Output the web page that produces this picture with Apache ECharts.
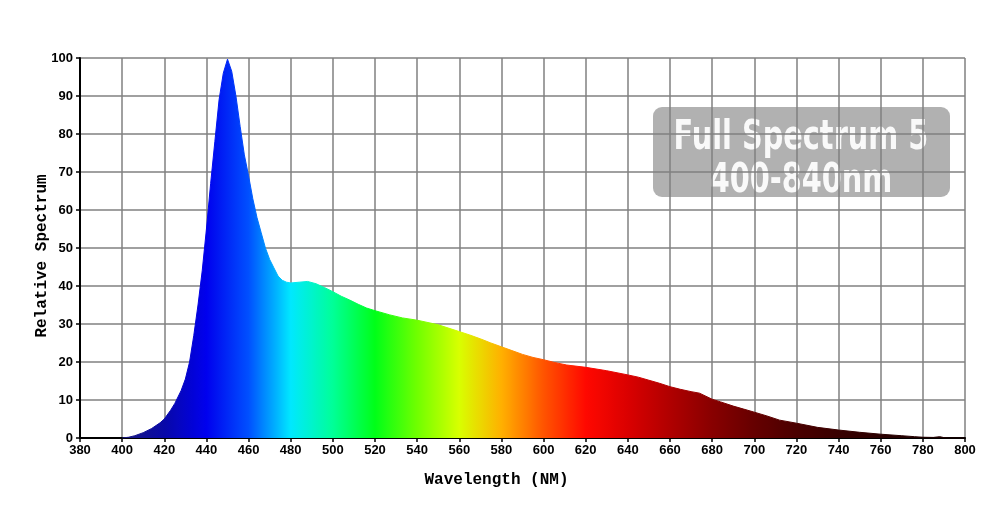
<!DOCTYPE html>
<html>
<head>
<meta charset="utf-8">
<title>Full Spectrum 5</title>
<script src="https://cdn.jsdelivr.net/npm/echarts@6/dist/echarts.min.js"></script>
<style>
  html, body { margin: 0; padding: 0; background: #fff; }
  #chart { width: 1000px; height: 530px; }
</style>
</head>
<body>
<div id="chart"></div>
<script>
// wavelength (nm) and relative intensity
const wavelengths = [
  400, 403, 406, 410, 414, 418, 420, 423, 425, 428, 430, 432, 434, 436, 438,
  440, 442, 444, 446, 448, 450, 452, 454, 456, 458, 460, 462, 464, 466, 468,
  470, 472, 474, 476, 478, 480, 484, 488, 492, 496, 500, 504, 508, 512, 516,
  520, 527, 533, 540, 550, 560, 565, 570, 575, 580, 585, 590, 595, 600, 605,
  611, 620, 630, 640, 645, 650, 655, 660, 665, 670, 674, 680, 684, 690, 695,
  700, 706, 712, 720, 730, 740, 750, 760, 770, 776, 780, 785, 788, 790, 792, 800
]
const intensity = [
  0, 0.2, 0.6, 1.4, 2.5, 4.0, 5.0, 7.3, 9.1, 12.5, 15.5, 20, 27, 35, 44,
  55, 67, 78, 89, 96, 99.7, 96.5, 90, 82, 74.5, 69, 63, 58, 54, 50,
  47, 44.8, 42.6, 41.5, 41, 40.8, 41, 41.2, 40.6, 39.6, 38.5, 37.3, 36.3, 35.2, 34.2,
  33.5, 32.4, 31.6, 31.0, 29.8, 28.0, 27.1, 26.1, 25.0, 24.0, 23.0, 22.0, 21.2, 20.6, 19.9,
  19.2, 18.6, 17.7, 16.6, 16.0, 15.2, 14.4, 13.5, 12.8, 12.2, 11.8, 10.2, 9.5, 8.4, 7.6,
  6.8, 5.8, 4.7, 3.9, 2.8, 2.1, 1.5, 1.0, 0.6, 0.35, 0.2, 0.15, 0.35, 0.1, 0, 0
]
// spectrum colours, one every 20 nm from 380 to 780
const spectrumColors = [
  '#1a1a70', '#1a1a80', '#0808a8', '#0000ee', '#0050ff', '#00e8ff', '#00ff98',
  '#00ff18', '#70ff00', '#d8ff00', '#ffb000', '#ff5400', '#ff0800', '#da0000',
  '#b00000', '#880000', '#660000', '#4a0000', '#380000', '#2a0000', '#200000'
]
const titleLines = ['Full Spectrum 5', '400-840nm']

const chart = echarts.init(document.getElementById('chart'))
const labelFont = { color: '#000', fontWeight: 'bold', fontSize: 13, fontFamily: 'Liberation Sans, Arial' }
const nameFont = { color: '#000', fontWeight: 'bold', fontSize: 16, fontFamily: 'Liberation Mono, monospace' }
const titleFont = 'bold 32px "DejaVu Sans Condensed", "DejaVu Sans"'

const option = {
  backgroundColor: '#fff',
  animation: false,
  grid: { left: 80, right: 35, top: 58, bottom: 92 },
  visualMap: {
    show: false,
    type: 'continuous',
    dimension: 0,
    min: 380,
    max: 780,
    inRange: { color: spectrumColors }
  },
  xAxis: {
    type: 'value',
    min: 380,
    max: 800,
    interval: 20,
    name: 'Wavelength (NM)',
    nameLocation: 'middle',
    nameGap: 34,
    nameTextStyle: { ...nameFont, padding: [0, 52, 0, 0] },
    axisLine: { lineStyle: { color: '#000', width: 2 } },
    axisTick: { show: true, length: 4, lineStyle: { color: '#000', width: 1.5 } },
    axisLabel: { ...labelFont, margin: 6 },
    splitLine: { show: true, lineStyle: { color: '#808080', width: 1.5 } }
  },
  yAxis: {
    type: 'value',
    min: 0,
    max: 100,
    interval: 10,
    name: 'Relative Spectrum',
    nameLocation: 'middle',
    nameGap: 30,
    nameMoveOverlap: false,
    nameTextStyle: { ...nameFont, padding: [0, 16, 0, 0] },
    axisLine: { show: true, lineStyle: { color: '#000', width: 2 } },
    axisTick: { show: true, length: 4, lineStyle: { color: '#000', width: 1.5 } },
    axisLabel: { ...labelFont, margin: 7 },
    splitLine: { show: true, lineStyle: { color: '#808080', width: 1.5 } }
  },
  series: [
    {
      type: 'line',
      data: wavelengths.map((w, i) => [w, intensity[i]]),
      showSymbol: false,
      symbol: 'none',
      lineStyle: { width: 1 },
      areaStyle: { opacity: 1 },
      z: 3
    }
  ],
  graphic: [
    {
      type: 'group',
      left: 653,
      top: 107,
      z: 100,
      children: [
        {
          type: 'rect',
          shape: { x: 0, y: 0, width: 297, height: 90, r: 9 },
          style: { fill: 'rgba(100,100,100,0.5)' }
        },
        {
          type: 'text',
          x: 148,
          y: 31,
          scaleY: 1.28,
          style: {
            text: titleLines[0],
            fill: 'rgba(255,255,255,0.92)',
            font: titleFont,
            align: 'center',
            verticalAlign: 'middle'
          }
        },
        {
          type: 'text',
          x: 148,
          y: 74,
          scaleY: 1.28,
          style: {
            text: titleLines[1],
            fill: 'rgba(255,255,255,0.92)',
            font: titleFont,
            align: 'center',
            verticalAlign: 'middle'
          }
        }
      ]
    }
  ]
}
chart.setOption(option)
</script>
</body>
</html>
